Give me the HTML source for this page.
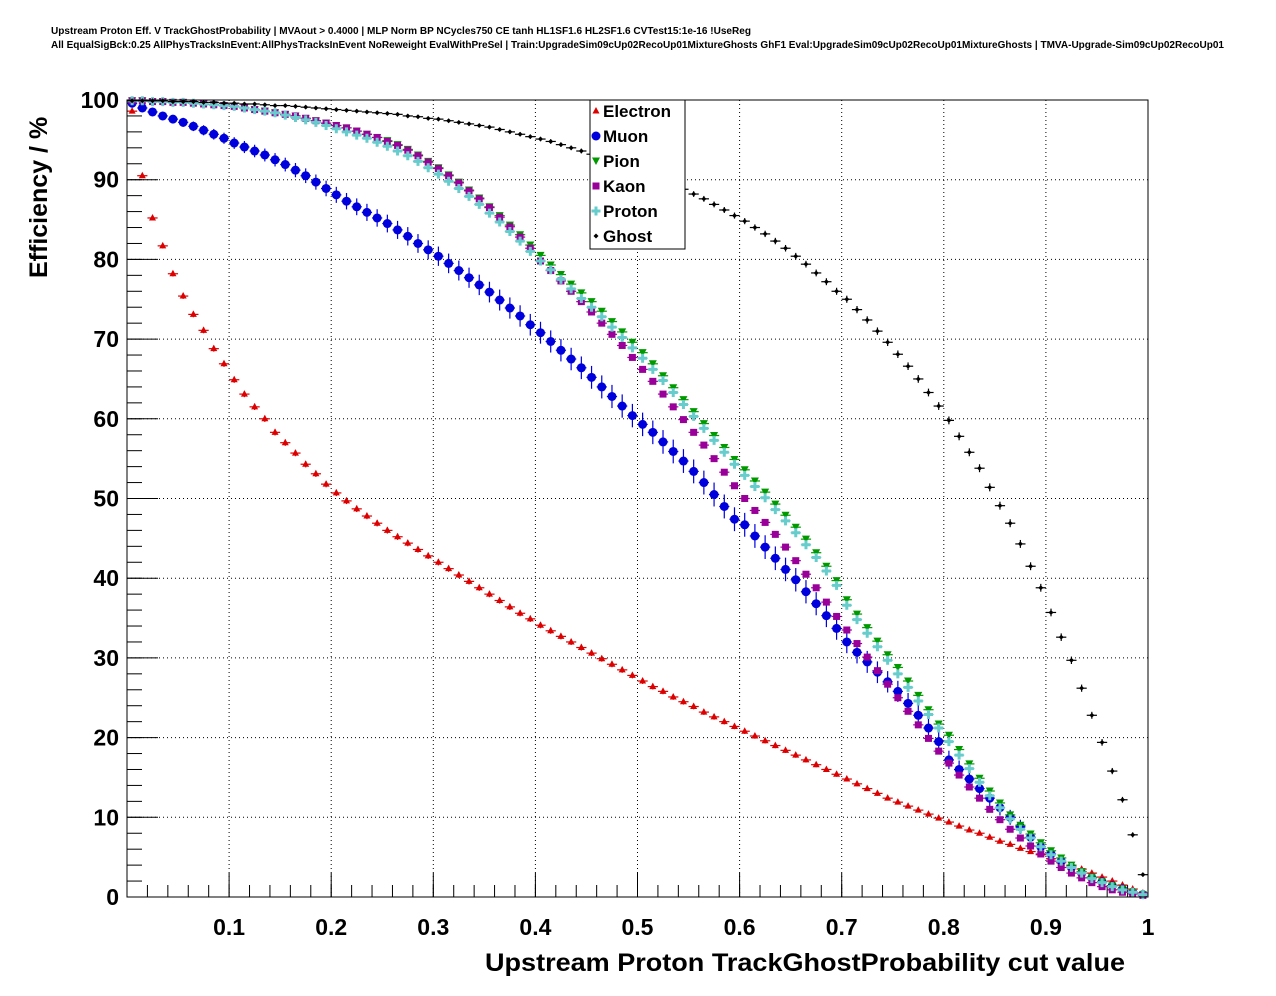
<!DOCTYPE html>
<html><head><meta charset="utf-8">
<style>
html,body{margin:0;padding:0;background:#fff;}
svg{display:block;font-family:"Liberation Sans",sans-serif;}
</style></head>
<body>
<svg id="chart" width="1276" height="996" viewBox="0 0 1276 996" xmlns="http://www.w3.org/2000/svg">
<rect x="0" y="0" width="1276" height="996" fill="#fff"/>
<text x="51" y="34" font-size="10" font-weight="bold" textLength="700" lengthAdjust="spacingAndGlyphs">Upstream Proton Eff. V TrackGhostProbability | MVAout &gt; 0.4000 | MLP Norm BP NCycles750 CE tanh HL1SF1.6 HL2SF1.6 CVTest15:1e-16 !UseReg</text>
<text x="51" y="48" font-size="10" font-weight="bold" textLength="1173" lengthAdjust="spacingAndGlyphs">All EqualSigBck:0.25 AllPhysTracksInEvent:AllPhysTracksInEvent NoReweight EvalWithPreSel | Train:UpgradeSim09cUp02RecoUp01MixtureGhosts GhF1 Eval:UpgradeSim09cUp02RecoUp01MixtureGhosts | TMVA-Upgrade-Sim09cUp02RecoUp01</text>
<g id="grid"></g>
<g id="axes"></g>
<g id="marks"></g>
<rect x="127" y="100" width="1021" height="797" fill="none" stroke="#000" stroke-width="1"/>
<text transform="translate(47,278) rotate(-90)" font-size="25" font-weight="bold">Efficiency / %</text>
<text x="1125" y="971" font-size="25" font-weight="bold" text-anchor="end" textLength="640" lengthAdjust="spacingAndGlyphs">Upstream Proton TrackGhostProbability cut value</text>
<g id="legend"></g>
</svg>
<script>
const xTicks=[0.1,0.2,0.3,0.4,0.5,0.6,0.7,0.8,0.9,1];
const xTickLabels=["0.1","0.2","0.3","0.4","0.5","0.6","0.7","0.8","0.9","1"];
const yTicks=[0,10,20,30,40,50,60,70,80,90,100];
const yTickLabels=["0","10","20","30","40","50","60","70","80","90","100"];
const seriesNames=["Electron","Muon","Pion","Kaon","Proton","Ghost"];
const electron=[98.6,90.5,85.2,81.7,78.2,75.4,73.1,71.1,68.8,66.9,64.9,63.1,61.5,60.0,58.3,57.0,55.7,54.3,53.1,51.8,50.7,49.7,48.7,47.8,46.9,46.0,45.2,44.4,43.6,42.8,42.0,41.2,40.4,39.6,38.8,38.0,37.2,36.4,35.6,34.9,34.1,33.4,32.7,32.0,31.3,30.6,29.9,29.2,28.5,27.8,27.1,26.4,25.8,25.1,24.5,23.9,23.2,22.6,22.0,21.4,20.8,20.2,19.6,19.0,18.4,17.8,17.2,16.6,16.0,15.4,14.8,14.2,13.6,13.0,12.4,11.9,11.4,10.9,10.4,9.9,9.4,8.9,8.4,8.0,7.5,7.0,6.6,6.1,5.7,5.3,4.8,4.3,3.9,3.5,3.0,2.5,2.0,1.5,1.0,0.5];
const muon=[99.6,99.0,98.5,98.0,97.6,97.2,96.7,96.2,95.7,95.2,94.6,94.1,93.6,93.1,92.5,91.9,91.2,90.5,89.7,88.9,88.1,87.3,86.6,85.9,85.2,84.5,83.7,82.9,82.0,81.2,80.4,79.5,78.6,77.7,76.8,75.9,74.9,73.9,72.9,71.8,70.8,69.7,68.6,67.5,66.4,65.2,64.0,62.8,61.6,60.4,59.3,58.3,57.1,55.9,54.7,53.4,52.0,50.5,49.0,47.4,46.7,45.3,43.9,42.5,41.1,39.8,38.3,36.8,35.3,33.7,32.0,30.7,29.5,28.2,27.0,25.8,24.3,22.8,21.2,19.5,17.2,16.0,14.8,13.6,12.4,11.2,10.0,8.8,7.5,6.3,5.4,4.5,3.7,3.0,2.4,1.9,1.4,1.0,0.6,0.3];
const pion=[99.9,99.9,99.8,99.8,99.7,99.7,99.6,99.5,99.4,99.3,99.2,99.0,98.8,98.6,98.4,98.2,98.0,97.7,97.4,97.1,96.8,96.5,96.1,95.7,95.3,94.9,94.4,93.8,93.1,92.3,91.5,90.6,89.7,88.7,87.7,86.6,85.5,84.3,83.1,81.8,80.5,79.3,78.1,76.9,75.8,74.7,73.5,72.2,70.9,69.6,68.3,66.9,65.4,63.9,62.4,60.9,59.4,57.9,56.4,54.9,53.6,52.2,50.8,49.3,47.9,46.4,44.9,43.2,41.5,39.7,37.3,35.5,33.8,32.1,30.4,28.8,27.1,25.3,23.5,21.7,20.3,18.5,16.7,14.9,13.3,11.8,10.3,9.0,7.9,6.8,5.8,4.9,4.0,3.2,2.5,1.9,1.4,1.0,0.6,0.3];
const kaon=[99.9,99.9,99.8,99.8,99.7,99.7,99.6,99.5,99.4,99.3,99.2,99.0,98.8,98.6,98.4,98.2,98.0,97.7,97.4,97.1,96.8,96.5,96.1,95.7,95.3,94.8,94.3,93.7,93.0,92.2,91.4,90.5,89.6,88.6,87.6,86.5,85.3,84.1,82.8,81.4,79.8,78.6,77.3,76.0,74.7,73.4,72.0,70.6,69.2,67.7,66.2,64.7,63.1,61.5,59.9,58.3,56.7,55.0,53.3,51.6,50.0,48.5,47.0,45.5,43.9,42.2,40.5,38.8,37.0,35.2,33.5,31.8,30.1,28.4,26.7,25.0,23.3,21.6,19.9,18.3,16.8,15.3,13.8,12.4,11.0,9.7,8.5,7.4,6.4,5.4,4.5,3.7,3.0,2.4,1.8,1.3,0.9,0.6,0.4,0.2];
const proton=[99.9,99.9,99.8,99.8,99.7,99.7,99.6,99.5,99.4,99.3,99.2,99.0,98.8,98.6,98.4,98.1,97.8,97.5,97.2,96.8,96.4,96.0,95.6,95.2,94.7,94.2,93.6,93.0,92.3,91.5,90.7,89.8,88.9,87.9,86.9,85.8,84.7,83.5,82.3,81.0,79.8,78.7,77.5,76.3,75.1,74.0,72.8,71.5,70.2,68.9,67.6,66.2,64.8,63.3,61.8,60.3,58.8,57.3,55.8,54.3,52.9,51.5,50.1,48.6,47.2,45.7,44.2,42.6,40.9,39.1,36.6,34.8,33.1,31.4,29.7,28.0,26.3,24.6,22.9,21.2,19.5,17.8,16.1,14.4,12.7,11.2,9.8,8.5,7.4,6.3,5.3,4.5,3.7,3.0,2.3,1.8,1.3,0.9,0.6,0.3];
const ghost=[99.9,99.9,99.9,99.9,99.8,99.8,99.8,99.7,99.7,99.6,99.6,99.5,99.5,99.4,99.3,99.3,99.2,99.1,99.0,98.9,98.8,98.7,98.6,98.5,98.4,98.3,98.2,98.0,97.9,97.7,97.6,97.4,97.2,97.0,96.8,96.6,96.3,96.0,95.7,95.4,95.1,94.8,94.4,94.0,93.6,93.2,92.8,92.4,91.9,91.5,91.0,90.5,90.0,89.4,88.8,88.2,87.6,86.9,86.2,85.5,84.8,84.0,83.2,82.3,81.4,80.4,79.4,78.3,77.2,76.0,75.0,73.7,72.4,71.0,69.6,68.1,66.6,65.0,63.3,61.6,59.8,57.8,55.8,53.8,51.4,49.1,46.9,44.3,41.5,38.8,35.7,32.6,29.7,26.2,22.8,19.4,15.8,12.2,7.8,2.8];
const errScale=[0.06,0.28,0.06,0.06,0.06,0.08];

const NS="http://www.w3.org/2000/svg";
const X0=127,X1=1148,Y0=897,Y1=100;
function xs(v){return X0+(X1-X0)*v;}
function ys(v){return Y0-(Y0-Y1)*v/100;}
function mk(tag,attrs,parent){const e=document.createElementNS(NS,tag);for(const k in attrs)e.setAttribute(k,attrs[k]);parent.appendChild(e);return e;}

const grid=document.getElementById('grid');
const axes=document.getElementById('axes');
xTicks.forEach((t,i)=>{
  const l=mk('line',{x1:xs(t),x2:xs(t),y1:Y1,y2:Y0,stroke:'#000','stroke-dasharray':'1,3','stroke-width':1},grid);
  
  
  const tk=mk('line',{x1:xs(t),x2:xs(t),y1:Y0,y2:Y0-24,stroke:'#000'},axes);
  
  
  const tx=mk('text',{x:xs(t),y:935,'font-size':23,'font-weight':'bold','text-anchor':'middle'},axes);
  tx.textContent=xTickLabels[i];
  
  
});
for(let m=0.02;m<1;m+=0.02){
  const tk=mk('line',{x1:xs(m),x2:xs(m),y1:Y0,y2:Y0-12,stroke:'#000'},axes);
  
  
}
yTicks.forEach((t,i)=>{
  if(t>0&&t<100){
  const l=mk('line',{x1:X0,x2:X1,y1:ys(t),y2:ys(t),stroke:'#000','stroke-dasharray':'1,3','stroke-width':1},grid);
  
  }
  const tk=mk('line',{x1:X0,x2:X0+31,y1:ys(t),y2:ys(t),stroke:'#000'},axes);
  
  
  const tx=mk('text',{x:119,y:ys(t)+8,'font-size':23,'font-weight':'bold','text-anchor':'end'},axes);
  tx.textContent=yTickLabels[i];
  
  
});
for(let m=2;m<100;m+=2){
  const tk=mk('line',{x1:X0,x2:X0+15,y1:ys(m),y2:ys(m),stroke:'#000'},axes);
  
  
}

const seriesData=[electron,muon,pion,kaon,proton,ghost];
const colors=['#dd0000','#0000dd','#009900','#990099','#66cccc','#000000'];
function marker(parent,k,cx,cy,c){
  let e;
  if(k===0)e=mk('polygon',{points:`${cx},${cy-4} ${cx-3.5},${cy+2.5} ${cx+3.5},${cy+2.5}`,fill:c},parent);
  else if(k===1)e=mk('circle',{cx:cx,cy:cy,r:4.5,fill:c},parent);
  else if(k===2)e=mk('polygon',{points:`${cx-4},${cy-3.5} ${cx+4},${cy-3.5} ${cx},${cy+4}`,fill:c},parent);
  else if(k===3)e=mk('rect',{x:cx-3.5,y:cy-3.5,width:7,height:7,fill:c},parent);
  else if(k===4)e=mk('path',{d:`M${cx-1.5},${cy-4.5}h3v3h3v3h-3v3h-3v-3h-3v-3h3z`,fill:c},parent);
  else e=mk('polygon',{points:`${cx},${cy-2.5} ${cx+2.5},${cy} ${cx},${cy+2.5} ${cx-2.5},${cy}`,fill:c},parent);
  return e;
}
const marks=document.getElementById('marks');
seriesData.forEach((arr,k)=>{
  const g=mk('g',{},marks);
  
  
  arr.forEach((v,i)=>{
    const xv=(i+0.5)/arr.length;
    const cx=xs(xv),cy=ys(v);
    const err=errScale[k]*Math.sqrt(Math.max(v,0)*(100-v))/10+0.1;
    const eb=mk('line',{x1:cx,x2:cx,y1:ys(v+err),y2:ys(v-err),stroke:colors[k],'stroke-width':1.2},g);
    
    
    const hb=mk('line',{x1:xs(xv-0.005),x2:xs(xv+0.005),y1:cy,y2:cy,stroke:colors[k],'stroke-width':1.2},g);
    
    
    const p=marker(g,k,cx,cy,colors[k]);
    
    
  });
});

const leg=document.getElementById('legend');
const box=mk('rect',{x:590,y:100,width:95,height:149,fill:'#fff',stroke:'#000'},leg);


seriesNames.forEach((n,k)=>{
  const y=111+25*k;
  const m=marker(leg,k,596,y,colors[k]);
  
  
  const t=mk('text',{x:603,y:y+6,'font-size':17,'font-weight':'bold'},leg);
  t.textContent=n;
  
  
});
</script>
</body></html>
